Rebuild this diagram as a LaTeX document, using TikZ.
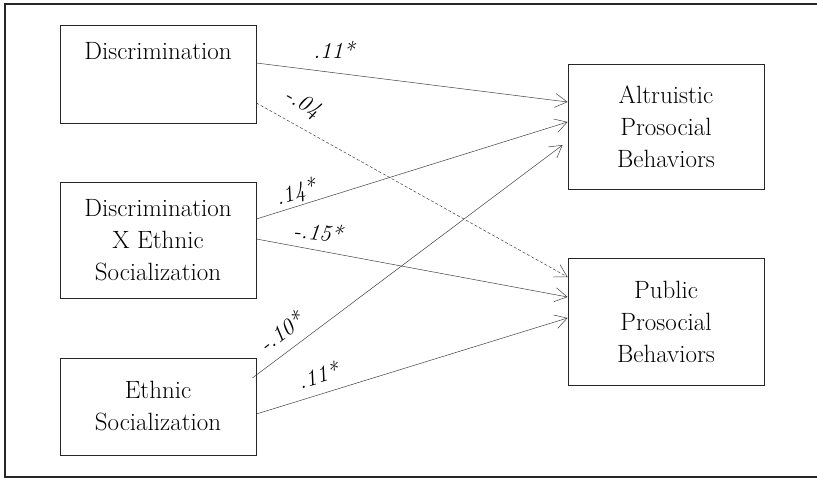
\documentclass[tikz,border=0pt]{standalone}
\usepackage{fontspec}
\usetikzlibrary{arrows.meta}
\begin{document}
\begin{tikzpicture}[x=1pt,y=-1pt,
  box/.style={draw=black!85, line width=0.8pt, minimum width=196pt, inner sep=0pt, align=center,
              font=\fontsize{25}{32}\selectfont},
  txt/.style={inner sep=0pt, align=center, font=\fontsize{25}{32}\selectfont},
  lab/.style={inner sep=0pt, font=\fontsize{23}{26}\selectfont\itshape},
  conn/.style={draw=black!75, line width=0.5pt, -{Straight Barb[length=12pt,width=14pt,line width=0.5pt]}},
  frame/.style={draw=black!85, line width=1.4pt}]
\useasboundingbox (0,0) rectangle (817,478);
\draw[frame] (820,4) -- (5,4) -- (5,477) -- (820,477);

\node[box, minimum height=98pt] (disc) at (158,74) {};
\node[txt, anchor=base] (disct) at (158,60) {Discrimination};
\node[box, minimum height=116pt] (dxe) at (158,240) {Discrimination\\X Ethnic\\Socialization};
\node[box, minimum height=97pt] (eth) at (158,406.5) {Ethnic\\Socialization};
\node[box, minimum height=125pt] (altr) at (666,126.5) {Altruistic\\Prosocial\\Behaviors};
\node[box, minimum height=127pt] (pub) at (666,321.5) {Public\\Prosocial\\Behaviors};

\draw[conn] ([yshift=11pt]disc.east) -- ([yshift=24.5pt]altr.west);
\draw[conn, dash pattern=on 3pt off 2pt] ([yshift=-29pt]disc.east) -- ([yshift=44.5pt]pub.west);
\draw[conn] ([yshift=21pt]dxe.east) -- ([yshift=4.5pt]altr.west);
\draw[conn] ([yshift=1pt]dxe.east) -- ([yshift=24.5pt]pub.west);
\draw[conn] ([xshift=-4pt,yshift=28.5pt]eth.east) -- ([xshift=-5pt,yshift=-18.5pt]altr.west);
\draw[conn] ([yshift=-7.5pt]eth.east) -- ([yshift=3.5pt]pub.west);

\node[lab] (l1) at (334,50) {.11*};
\node[lab, rotate=-29] (l2) at (302,104) {-.04};
\node[lab, rotate=17] (l3) at (296,193) {.14*};
\node[lab, rotate=-5] (l4) at (318,232) {-.15*};
\node[lab, rotate=37] (l5) at (281,332) {-.10*};
\node[lab, rotate=17] (l6) at (318,375) {.11*};
\end{tikzpicture}
\end{document}
